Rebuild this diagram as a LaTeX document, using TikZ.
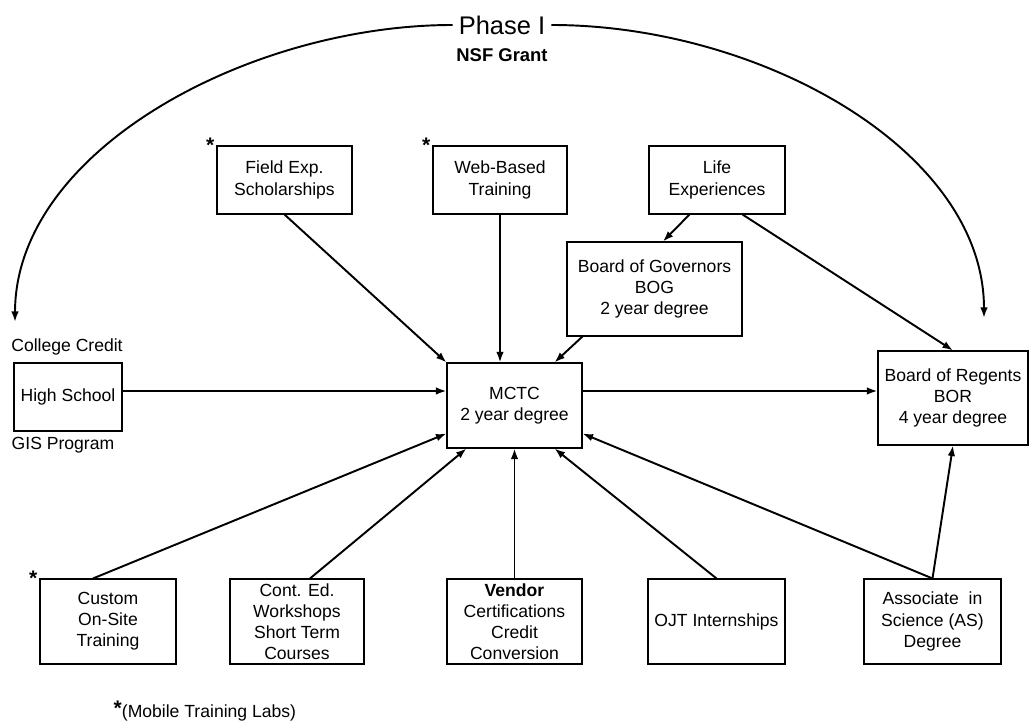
\documentclass[tikz,border=0pt]{standalone}
\usepackage{fontspec}
\setmainfont{Liberation Sans}
\usetikzlibrary{arrows.meta}

\begin{document}
\begin{tikzpicture}[align=center, font=\fontsize{10}{12}\selectfont,
    box/.style={draw, line width=0.6pt, inner sep=1pt, minimum width=2.72cm, minimum height=1.7cm},
    topbox/.style={box, minimum height=1.36cm},
    link/.style={-{Latex[length=2.1mm,width=1.5mm]}, line width=1.1pt},
    starnote/.style={anchor=east, inner sep=1pt, font=\fontsize{12}{12}\selectfont\bfseries}]
      \useasboundingbox (0,0) rectangle (20.6,14.44);

      \node[font=\fontsize{14.5}{17}\selectfont] (PH) at (10.04,13.94) {Phase I};
      \node[font=\fontsize{10.5}{12}\selectfont\bfseries] (NSF) at (10.04,13.34) {NSF Grant};

      \node[topbox, minimum width=2.7cm] (FES) at (5.69,10.84) {Field Exp.\\ Scholarships};
      \node[topbox, minimum width=2.68cm] (WBT) at (10.0,10.84) {Web-Based\\ Training};
      \node[topbox] (LE) at (14.34,10.84) {Life\\ Experiences};
      \node[box, minimum width=3.5cm, minimum height=1.88cm] (BOG) at (13.09,8.66) {Board of Governors\\ BOG\\ 2 year degree};

      \node[topbox, minimum width=2.16cm] (HS) at (1.36,6.5) {High School};
      \node (CC) at (1.34,7.5) {College Credit};
      \node (GIS) at (1.26,5.54) {GIS Program};
      \node[box, minimum width=2.7cm] (MCTC) at (10.29,6.33) {MCTC\\ 2 year degree};
      \node[box, minimum width=3.0cm, minimum height=1.88cm] (BOR) at (19.06,6.48) {Board of Regents\\ BOR\\ 4 year degree};

      \node[box] (COT) at (2.16,2.01) {Custom\\ On-Site\\ Training};
      \node[box, minimum width=2.68cm] (CE) at (5.94,2.01) {Cont. Ed.\\ Workshops\\ Short Term\\ Courses};
      \node[box, minimum width=2.7cm] (VC) at (10.29,2.01) {\textbf{Vendor}\\ Certifications\\ Credit\\ Conversion};
      \node[box, minimum width=2.74cm] (OJT) at (14.33,2.01) {OJT Internships};
      \node[box, minimum width=2.74cm] (AS) at (18.65,2.01) {Associate\ \ in\\ Science (AS)\\ Degree};

      \node[starnote] (S1) at (FES.north west) {*};
      \node[starnote] (S2) at (WBT.north west) {*};
      \node[starnote] (S3) at (COT.north west) {*};
      \node[anchor=west] (MTL) at (2.15,0.22) {\raisebox{0.15em}{\bfseries\fontsize{12}{12}\selectfont*}(Mobile Training Labs)};

      \coordinate (PhL) at (0.3,8.0);
      \coordinate (PhR) at (19.68,8.08);
      \coordinate (HSout) at ([yshift=0.12cm]HS.east);

      \draw[link] (PH.west) .. controls (5.0,13.94) and (0.3,11.44) .. (PhL);
      \draw[link] (PH.east) .. controls (15.2,13.94) and (19.68,11.44) .. (PhR);

      \draw[link] (FES.south) -- (MCTC.north west);
      \draw[link] (WBT.south) -- (WBT.south |- MCTC.north);
      \draw[link] ([xshift=0.32cm]BOG.south west) -- ([xshift=0.8cm]MCTC.north);
      \draw[link] ([xshift=0.82cm]LE.south west) -- ([xshift=0.17cm]BOG.north);
      \draw[link] ([xshift=-0.86cm]LE.south east) -- (BOR.north);

      \draw[link] (HSout) -- (HSout -| MCTC.west);
      \draw[link] (HSout -| MCTC.east) -- (HSout -| BOR.west);

      \draw[link] ([xshift=-0.3cm]COT.north) -- ([yshift=0.3cm]MCTC.south west);
      \draw[link] ([xshift=0.26cm]CE.north) -- ([xshift=0.4cm]MCTC.south west);
      \draw[link] (VC.north) -- (MCTC.south);
      \draw[link] (OJT.north) -- ([xshift=0.8cm]MCTC.south);
      \draw[link] (AS.north) -- ([yshift=0.3cm]MCTC.south east);
      \draw[link] (AS.north) -- (BOR.south);
    \end{tikzpicture}
\end{document}
